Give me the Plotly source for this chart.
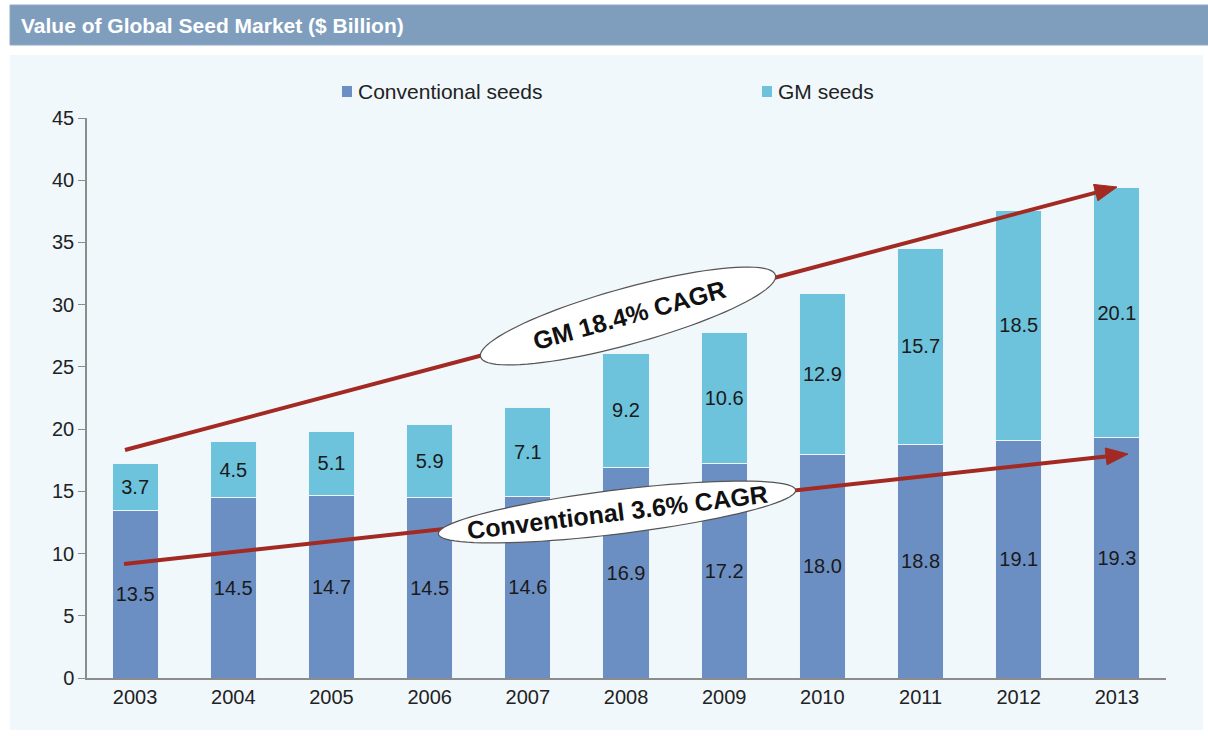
import plotly.graph_objects as go
import math

years = ["2003", "2004", "2005", "2006", "2007", "2008", "2009", "2010", "2011", "2012", "2013"]
conventional = [13.5, 14.5, 14.7, 14.5, 14.6, 16.9, 17.2, 18.0, 18.8, 19.1, 19.3]
gm = [3.7, 4.5, 5.1, 5.9, 7.1, 9.2, 10.6, 12.9, 15.7, 18.5, 20.1]
y_ticks = [0, 5, 10, 15, 20, 25, 30, 35, 40, 45]
series_names = ["Conventional seeds", "GM seeds"]

W, H = 1208, 736
L, R, T, B = 87, 42, 118, 58
PW, PH = W - L - R, H - T - B

def px(x):
    return (x - L) / PW

def py(y):
    return (H - B - y) / PH

CONV_C = "#6c8fc3"
GM_C = "#6dc3dc"
ARROW_C = "#a32a22"
FONT = "Liberation Sans, Arial, Helvetica, sans-serif"
LABEL_FONT = dict(size=20, color="#1a1a1a", family=FONT)

fig = go.Figure()
fig.add_trace(go.Bar(
    x=years, y=conventional, name=series_names[0],
    marker=dict(color=CONV_C, line=dict(color="#eef6fb", width=1)),
    text=[f"{v:.1f}" for v in conventional], textposition="inside",
    insidetextanchor="middle", textfont=LABEL_FONT, width=0.47,
))
fig.add_trace(go.Bar(
    x=years, y=gm, name=series_names[1],
    marker=dict(color=GM_C, line=dict(color="#eef6fb", width=1)),
    text=[f"{v:.1f}" for v in gm], textposition="inside",
    insidetextanchor="middle", textfont=LABEL_FONT, width=0.47,
))

shapes = []
shapes.append(dict(type="rect", xref="paper", yref="paper",
                   x0=px(10), x1=px(1203), y0=py(730), y1=py(55),
                   fillcolor="#f0f8fc", line=dict(width=0), layer="below"))
shapes.append(dict(type="rect", xref="paper", yref="paper",
                   x0=px(10), x1=px(1210), y0=py(45), y1=py(5),
                   fillcolor="#7f9ebd", line=dict(color="#8ea9c4", width=1), layer="below"))

annotations = [dict(text="<b>Value of Global Seed Market ($ Billion)</b>", xref="paper", yref="paper",
                    x=px(19), y=py(26), xanchor="left", yanchor="middle", showarrow=False,
                    font=dict(size=21, color="white", family=FONT))]

# manual legend
for (sx, color, name) in [(342, CONV_C, series_names[0]), (762, GM_C, series_names[1])]:
    shapes.append(dict(type="rect", xref="paper", yref="paper",
                       x0=px(sx), x1=px(sx + 10), y0=py(97), y1=py(86),
                       fillcolor=color, line=dict(width=0)))
    annotations.append(dict(text=name, xref="paper", yref="paper", x=px(sx + 14), y=py(91.5),
                            xanchor="left", yanchor="middle", showarrow=False,
                            font=dict(size=21, color="#222222", family=FONT)))

def arrow_shapes(x0, y0, x1, y1, head_len=22, head_w=17, lw=4):
    dx, dy = x1 - x0, y1 - y0
    d = math.hypot(dx, dy)
    ux, uy = dx / d, dy / d
    nx, ny = -uy, ux
    bx, by = x1 - ux * head_len, y1 - uy * head_len
    line = dict(type="line", xref="paper", yref="paper",
                x0=px(x0), y0=py(y0), x1=px(bx + ux * 2), y1=py(by + uy * 2),
                line=dict(color=ARROW_C, width=lw))
    p1 = (bx + nx * head_w / 2, by + ny * head_w / 2)
    p2 = (bx - nx * head_w / 2, by - ny * head_w / 2)
    tri = dict(type="path", xref="paper", yref="paper",
               path=f"M {px(x1):.5f},{py(y1):.5f} L {px(p1[0]):.5f},{py(p1[1]):.5f} "
                    f"L {px(p2[0]):.5f},{py(p2[1]):.5f} Z",
               fillcolor=ARROW_C, line=dict(color=ARROW_C, width=1))
    return [line, tri]

shapes += arrow_shapes(125, 450, 1117, 187)
shapes += arrow_shapes(124, 564, 1128, 454)

def ellipse_path(cx, cy, a, b, ang_deg, n=90):
    t = math.radians(ang_deg)
    pts = []
    for i in range(n + 1):
        th = 2 * math.pi * i / n
        ex, ey = a * math.cos(th), b * math.sin(th)
        X = cx + ex * math.cos(t) + ey * math.sin(t)
        Y = cy - ex * math.sin(t) + ey * math.cos(t)
        pts.append((px(X), py(Y)))
    return "M " + " L ".join(f"{x:.5f},{y:.5f}" for x, y in pts) + " Z"

shapes.append(dict(type="path", xref="paper", yref="paper",
                   path=ellipse_path(628, 316, 153, 28, 15.5),
                   fillcolor="white", line=dict(color="#555555", width=1.2)))
shapes.append(dict(type="path", xref="paper", yref="paper",
                   path=ellipse_path(617, 512, 180, 22, 7),
                   fillcolor="white", line=dict(color="#555555", width=1.2)))

annotations.append(dict(text="<b>GM 18.4% CAGR</b>", xref="paper", yref="paper",
                        x=px(629), y=py(315), xanchor="center", yanchor="middle",
                        showarrow=False, textangle=-15.5,
                        font=dict(size=25, color="#111111", family=FONT)))
annotations.append(dict(text="<b>Conventional 3.6% CAGR</b>", xref="paper", yref="paper",
                        x=px(617), y=py(512), xanchor="center", yanchor="middle",
                        showarrow=False, textangle=-7,
                        font=dict(size=25, color="#111111", family=FONT)))

fig.update_layout(
    width=W, height=H,
    margin=dict(l=L, r=R, t=T, b=B, pad=0),
    barmode="stack",
    paper_bgcolor="white",
    plot_bgcolor="rgba(0,0,0,0)",
    font=dict(family=FONT, size=20, color="#222222"),
    showlegend=False,
    shapes=shapes,
    annotations=annotations,
)
fig.update_xaxes(type="category", showline=True, linecolor="#8c8c8c", linewidth=1.5,
                 ticks="", showgrid=False, tickfont=dict(size=20, color="#222222"),
                 range=[-0.49, 10.5])
fig.update_yaxes(range=[0, 45], tickvals=y_ticks, showline=True, linecolor="#8c8c8c", linewidth=1.5,
                 ticks="outside", ticklen=7, tickcolor="#8c8c8c", showgrid=False, zeroline=False,
                 tickfont=dict(size=20, color="#222222"))

fig.write_html("out.html", config={"displayModeBar": False},
               post_script="document.body.style.margin='0';")
